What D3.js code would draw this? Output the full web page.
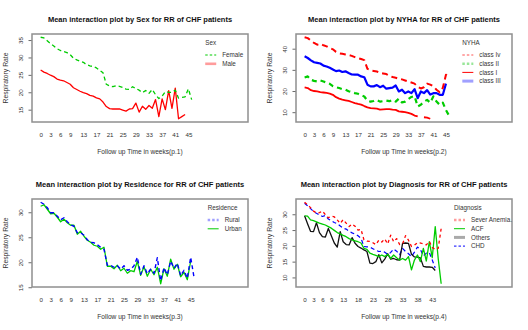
<!DOCTYPE html>
<html>
<head>
<meta charset="utf-8">
<script src="https://cdn.jsdelivr.net/npm/d3@7"></script>
<style>
  body { margin: 0; background: #fff; }
  svg { display: block; }
  text { font-family: "Liberation Sans", Arial, sans-serif; fill: #222; }
</style>
</head>
<body>
<div id="chart"></div>
<script>
// follow up weeks (factor levels)
var weeks = [0,1,2,3,4,5,6,7,8,9,10,11,12,13,14,15,16,17,18,19,20,21,22,23,24,25,26,27,28,29,30,31,32,33,34,35,36,37,38,39,40,41,42,43,44,45,46];

var ticksP1 = [0,3,6,9,13,17,21,25,29,33,37,41,45];
var ticksP4 = [0,3,6,9,13,18,23,28,33,38,43];

// p.1 Sex
var female = [35.8,35.6,34.8,34.0,33.3,32.5,32.0,31.7,31.4,30.8,29.8,29.3,28.9,28.6,27.9,27.6,27.4,27.0,26.3,25.6,22.3,21.8,21.6,21.9,21.7,21.4,20.9,20.8,21.6,21.1,20.6,19.9,20.5,19.7,20.8,19.3,18.2,18.9,20.2,20.0,20.0,20.6,18.3,18.5,18.7,21.0,17.9];
var male = [26.4,25.8,25.4,24.9,24.5,23.8,23.5,23.3,22.8,22.3,21.3,20.8,20.3,19.9,19.6,19.1,18.9,18.4,18.1,17.2,15.9,15.3,15.2,15.2,15.2,14.9,14.6,15.2,15.3,16.9,14.3,16.0,15.1,16.2,15.4,17.9,13.0,18.1,15.0,20.5,15.4,21.2,12.4,13.0,13.6,null,null];

// p.2 NYHA
var classIv = [45.4,45.0,43.8,42.7,41.9,42.3,41.6,41.1,40.3,39.7,38.5,37.8,37.6,37.3,37.0,36.6,36.0,35.5,35.1,34.6,30.5,29.8,29.5,29.2,28.6,28.3,28.0,27.2,26.6,26.3,25.8,25.5,25.0,24.5,24.0,23.5,22.0,21.2,21.8,23.5,23.0,22.2,20.6,19.4,21.5,27.7,26.1];
var classII = [26.4,26.9,25.3,24.8,24.5,25.0,24.5,24.0,23.4,22.3,21.8,21.4,20.9,20.6,19.9,19.5,19.0,18.7,18.0,17.4,15.4,15.0,15.3,15.8,15.0,15.2,15.5,15.2,15.8,15.0,16.4,14.6,15.0,16.2,17.2,17.6,12.7,13.5,15.0,15.8,14.5,17.5,15.0,13.5,14.5,11.0,8.3];
var classI = [21.7,21.4,20.4,20.0,19.8,19.5,19.3,19.1,18.8,18.2,17.1,16.4,15.9,15.6,15.3,14.8,14.3,13.9,13.6,12.9,12.3,11.9,11.8,11.7,11.2,11.3,11.4,11.4,11.2,11.1,10.4,10.2,10.0,9.7,9.2,8.4,8.0,null,7.6,7.4,6.9,null,null,null,null,null,null];
var classIII = [36.4,35.6,34.5,33.6,33.3,33.0,32.0,31.6,31.0,30.2,29.4,29.7,29.0,29.3,28.5,27.8,27.7,27.7,26.9,26.5,23.0,22.2,22.2,22.8,21.8,22.5,21.1,21.4,21.6,22.6,19.8,20.6,19.0,19.8,19.0,20.9,16.6,19.8,19.0,20.4,18.3,19.0,19.0,18.2,18.2,23.5,null];

// p.3 Residence
var rural = [32.0,31.6,30.9,29.9,29.9,29.2,28.5,28.9,28.1,27.5,27.2,25.9,25.9,25.4,24.5,24.0,23.9,23.5,23.0,22.6,19.4,19.4,19.0,19.3,18.6,19.3,18.4,18.6,19.3,21.0,17.6,19.3,17.7,18.6,17.8,20.9,16.3,18.9,17.5,20.2,18.8,19.8,17.3,18.4,16.8,21.0,17.0];
var urban = [31.2,31.5,30.6,29.7,29.8,29.0,28.1,28.6,27.9,27.4,27.4,25.6,26.2,25.2,24.4,24.0,23.4,23.2,22.6,23.0,19.2,19.2,18.7,19.4,18.3,18.8,17.8,18.3,18.1,20.2,17.4,19.1,17.2,18.6,17.5,19.0,15.7,18.7,17.2,20.6,18.6,19.6,17.1,18.0,16.5,20.2,null];

// p.4 Diagnosis
var severAnemia = [33.8,33.0,32.1,31.0,30.4,30.5,31.0,29.9,28.9,29.4,29.2,28.2,27.1,28.3,27.2,26.1,26.9,26.2,25.0,25.2,21.9,21.5,21.4,21.0,20.4,21.8,21.2,22.2,20.6,23.4,21.3,22.3,20.4,20.6,23.2,21.8,19.8,20.2,21.0,20.9,20.6,20.3,21.4,19.5,18.8,19.2,25.5];
var acf = [29.5,29.4,28.2,28.0,27.6,27.2,26.9,26.6,26.1,25.6,24.9,24.2,23.8,23.3,22.9,22.3,21.9,21.6,21.3,20.9,19.2,18.9,17.7,17.3,17.0,16.6,17.1,16.6,17.3,16.0,17.1,16.2,15.5,16.0,15.5,16.6,12.4,15.5,17.1,15.0,19.2,15.2,21.3,16.3,26.1,16.0,8.0];
var others = [29.5,27.0,24.6,24.5,27.3,24.2,22.9,22.8,25.5,23.2,20.9,19.6,24.5,21.3,20.4,20.3,22.6,20.8,19.8,19.3,18.7,18.2,14.5,14.4,15.0,17.2,14.6,15.8,17.5,15.8,16.0,15.6,15.5,20.8,20.9,20.8,17.3,16.5,16.4,16.2,13.5,13.3,13.3,13.2,12.2,null,null];
var chd = [33.5,32.7,31.8,30.9,30.3,29.8,29.3,29.6,28.5,28.0,27.4,27.0,26.3,25.6,25.3,24.6,24.1,23.7,23.2,22.4,19.8,19.7,19.6,19.1,18.6,18.2,18.3,18.0,17.3,17.9,19.0,18.3,17.2,19.2,18.2,17.5,16.6,18.0,19.6,18.9,16.8,17.7,17.9,15.5,13.0,null,null];

var RED = "#ff0000", GREEN = "#00cc00", BLUE = "#0000ff", BLACK = "#111111";

var panels = [
  { ox: 0, oy: 0, title: "Mean interaction plot by Sex for RR of CHF patients",
    xlab: "Follow up Time in weeks(p.1)", legendTitle: "Sex", xticks: ticksP1, yticks: [15,20,25,30,35],
    series: [
      { name: "Female", values: female, color: GREEN, dash: "4,3", width: 1.3, lcol: GREEN, lw: 1 },
      { name: "Male", values: male, color: RED, dash: null, width: 1.3, lcol: "#ff9c9c", lw: 2.6 }
    ] },
  { ox: 264, oy: 0, title: "Mean interaction plot by NYHA for RR of CHF patients",
    xlab: "Follow up Time in weeks(p.2)", legendTitle: "NYHA", xticks: ticksP1, yticks: [10,20,30,40],
    series: [
      { name: "class Iv", values: classIv, color: RED, dash: "6,4", width: 2, lcol: "#ff5050", lw: 1 },
      { name: "class II", values: classII, color: GREEN, dash: "5,4", width: 2.2, lcol: "#99e699", lw: 2.6 },
      { name: "class I", values: classI, color: RED, dash: null, width: 1.8, lcol: RED, lw: 1 },
      { name: "class III", values: classIII, color: BLUE, dash: null, width: 2.2, lcol: "#a0a0ff", lw: 3 }
    ] },
  { ox: 0, oy: 165, title: "Mean interaction plot by Residence for RR of CHF patients",
    xlab: "Follow up Time in weeks(p.3)", legendTitle: "Residence", xticks: ticksP1, yticks: [15,20,25,30],
    series: [
      { name: "Rural", values: rural, color: BLUE, dash: "4,3", width: 1.4, lcol: "#a0a0ff", lw: 2.6 },
      { name: "Urban", values: urban, color: GREEN, dash: null, width: 1.3, lcol: GREEN, lw: 1 }
    ] },
  { ox: 264, oy: 165, title: "Mean interaction plot by Diagnosis for RR of CHF patients",
    xlab: "Follow up Time in weeks(p.4)", legendTitle: "Diagnosis", xticks: ticksP4, yticks: [10,15,20,25,30],
    series: [
      { name: "Sever Anemia.", values: severAnemia, color: RED, dash: "3,3", width: 1.3, lcol: "#ff9c9c", lw: 2.6 },
      { name: "ACF", values: acf, color: GREEN, dash: null, width: 1.3, lcol: GREEN, lw: 1 },
      { name: "Others", values: others, color: BLACK, dash: null, width: 1.3, lcol: "#aaaaaa", lw: 3 },
      { name: "CHD", values: chd, color: BLUE, dash: "4,3", width: 1.2, lcol: BLUE, lw: 1 }
    ] }
];

var W = 528, H = 330;
var box = { left: 32, right: 248, top: 34, bottom: 122 };

var svg = d3.select("#chart").append("svg")
    .attr("width", W)
    .attr("height", H);

function drawPanel(p){
    var g = svg.append("g").attr("transform", "translate(" + p.ox + "," + p.oy + ")");

    // x limits the way interaction.plot does it (room on the right for the legend)
    var nx = weeks.length;
    var nch = d3.max(p.series, function(s){ return s.name.length; });
    var lo = -0.2 / nx * (nx - 1),
        hi = (nx - 1) + (0.2 + 0.02 * nch) * (nx - 1),
        dx = hi - lo;
    var x = d3.scaleLinear()
        .domain([lo - 0.04 * dx, hi + 0.04 * dx])
        .range([box.left, box.right]);

    var all = [];
    p.series.forEach(function(s){ s.values.forEach(function(v){ if (v != null) all.push(v); }); });
    var ymin = d3.min(all), ymax = d3.max(all), dy = ymax - ymin;
    var y = d3.scaleLinear()
        .domain([ymin - 0.04 * dy, ymax + 0.04 * dy])
        .range([box.bottom, box.top]);

    // title
    g.append("text")
        .attr("x", (box.left + box.right) / 2)
        .attr("y", 21.5)
        .attr("text-anchor", "middle")
        .attr("font-size", "7.5px")
        .attr("font-weight", "bold")
        .style("fill", "#111")
        .text(p.title);

    // y axis, labels parallel to axis
    var yAxis = g.append("g")
        .attr("transform", "translate(" + box.left + ",0)")
        .call(d3.axisLeft(y).tickValues(p.yticks).tickSize(3.5));
    yAxis.select(".domain").remove();
    yAxis.selectAll(".tick line").attr("stroke", "#444").attr("stroke-width", 0.8);
    yAxis.selectAll(".tick text")
        .attr("transform", "rotate(-90)")
        .attr("x", 0)
        .attr("y", -9.5)
        .attr("dy", null)
        .attr("text-anchor", "middle")
        .attr("font-size", "6.2px")
        .attr("font-family", null)
        .style("fill", "#333");

    // x axis: labels only
    var xAxis = g.append("g")
        .attr("transform", "translate(0,130)")
        .call(d3.axisBottom(x).tickValues(p.xticks).tickSize(0).tickPadding(3).tickFormat(function(d){ return weeks[d]; }));
    xAxis.select(".domain").remove();
    xAxis.selectAll(".tick text")
        .attr("font-size", "6.2px")
        .attr("font-family", null)
        .style("fill", "#333");

    // axis titles
    g.append("text")
        .attr("x", (box.left + box.right) / 2)
        .attr("y", 154)
        .attr("text-anchor", "middle")
        .attr("font-size", "6.6px")
        .style("fill", "#333")
        .text(p.xlab);

    g.append("text")
        .attr("transform", "translate(8.2," + ((box.top + box.bottom) / 2) + ") rotate(-90)")
        .attr("text-anchor", "middle")
        .attr("font-size", "6.8px")
        .style("fill", "#333")
        .text("Respiratory Rate");

    // lines
    var line = d3.line()
        .defined(function(d){ return d != null; })
        .x(function(d, i){ return x(i); })
        .y(function(d){ return y(d); });

    var plot = g.append("g");
    p.series.slice().reverse().forEach(function(s){
        plot.append("path")
            .datum(s.values)
            .attr("fill", "none")
            .attr("stroke", s.color)
            .attr("stroke-width", s.width)
            .attr("stroke-dasharray", s.dash)
            .attr("stroke-linejoin", "round")
            .attr("d", line);
    });

    // box
    g.append("rect")
        .attr("x", box.left)
        .attr("y", box.top)
        .attr("width", box.right - box.left)
        .attr("height", box.bottom - box.top)
        .attr("fill", "none")
        .attr("stroke", "#8f8f8f")
        .attr("stroke-width", 1.5);

    // legend
    var legX = x((nx - 1) * 1.05) + 6;
    var lg = g.append("g");
    lg.append("text")
        .attr("x", legX)
        .attr("y", 45)
        .attr("font-size", "6.3px")
        .style("fill", "#333")
        .text(p.legendTitle);

    var step = p.series.length > 2 ? 8.7 : 8.8;
    p.series.forEach(function(s, i){
        var cy = 55 + i * step;
        lg.append("line")
            .attr("x1", legX).attr("x2", legX + 11)
            .attr("y1", cy).attr("y2", cy)
            .attr("stroke", s.lcol)
            .attr("stroke-width", s.lw)
            .attr("stroke-dasharray", s.dash ? "2.5,2" : null);
        lg.append("text")
            .attr("x", legX + 17)
            .attr("y", cy + 2.2)
            .attr("font-size", "6.3px")
            .style("fill", "#333")
            .text(s.name);
    });
}

panels.forEach(drawPanel);
</script>
</body>
</html>
